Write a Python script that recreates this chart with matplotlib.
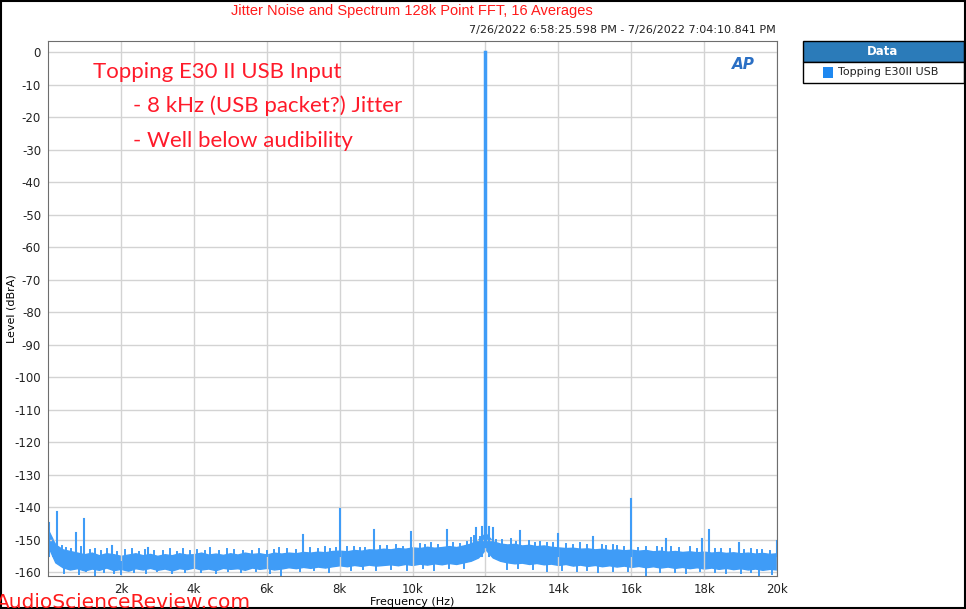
import matplotlib.pyplot as plt
from matplotlib.patches import Rectangle

plt.rcParams["axes.unicode_minus"] = False

# noise band envelope, every 0.2 kHz
freq_k = [i * 0.2 for i in range(101)]
upper = [-147.0, -151.5, -153.0, -153.5, -154.0, -154.5, -154.0, -154.8, -154.2, -154.5,
         -155.0, -154.6, -154.2, -154.8, -154.4, -155.0, -154.5, -154.8, -154.2, -154.6,
         -154.5, -154.0, -154.6, -154.3, -154.7, -154.2, -154.6, -154.0, -154.4, -154.2,
         -154.6, -154.0, -154.3, -154.0, -154.2, -153.8, -154.0, -153.7, -153.9, -153.5,
         -153.4, -153.6, -153.2, -153.4, -153.0, -153.1, -152.8, -153.0, -152.6, -152.8,
         -152.4, -152.6, -152.2, -152.5, -152.3, -152.0, -152.3, -151.8, -151.2, -150.0,
         -148.0, -150.5, -151.2, -151.5, -151.3, -151.8, -151.6, -152.0, -151.8, -152.2,
         -152.4, -152.6, -152.5, -152.8, -152.7, -153.0, -152.8, -153.2, -153.0, -153.3,
         -153.1, -153.4, -153.2, -153.6, -153.4, -153.7, -153.5, -153.8, -153.6, -153.9,
         -153.7, -154.0, -153.8, -154.1, -153.9, -154.2, -154.0, -154.3, -154.1, -154.4,
         -154.2]
lower = [-152.0, -157.0, -158.5, -159.2, -158.8, -159.5, -158.9, -159.3, -158.6, -159.4,
         -159.0, -159.6, -158.8, -159.2, -158.7, -159.3, -158.9, -159.5, -158.8, -159.1,
         -158.6, -159.2, -158.9, -159.4, -158.7, -159.0, -158.8, -159.3, -158.6, -159.0,
         -158.7, -159.2, -158.9, -158.5, -158.8, -158.4, -158.7, -158.3, -158.6, -158.2,
         -157.9, -158.2, -157.8, -158.1, -157.7, -158.0, -157.8, -157.6, -157.9, -157.5,
         -157.8, -157.4, -157.7, -157.3, -157.6, -157.2, -157.5, -157.0, -156.5, -155.5,
         -153.0, -155.5, -156.5, -157.0, -157.3, -157.1, -157.5, -157.2, -157.6, -157.4,
         -157.8, -157.5, -158.0, -157.7, -158.1, -157.8, -158.2, -157.9, -158.3, -158.0,
         -158.4, -158.1, -158.5, -158.2, -158.6, -158.3, -158.7, -158.4, -158.8, -158.5,
         -158.9, -158.6, -159.0, -158.7, -159.1, -158.8, -159.2, -158.9, -159.3, -159.0,
         -159.2]

# discrete tones (kHz, dBrA)
spike_f = [0.02, 0.26, 0.76, 1.0, 1.75, 2.75, 7.0, 8.0, 8.95, 9.96, 10.96, 11.75, 11.9,
           12.1, 12.2, 12.95, 13.98, 14.94, 16.0, 16.96, 17.93, 18.13, 18.95, 20.0]
spike_db = [-145.0, -141.6, -148.1, -143.8, -152.0, -152.5, -148.7, -140.7, -146.9, -147.7,
            -146.9, -146.5, -146.0, -146.2, -146.4, -147.4, -148.3, -149.3, -137.6, -149.9,
            -149.9, -147.2, -151.0, -150.5]
# small bumps on the top of the noise floor
minor_f = [0.15, 0.38, 0.5, 0.62, 0.9, 1.15, 1.3, 1.45, 1.62, 1.9, 2.1, 2.3, 2.5, 2.65, 2.9,
           3.15, 3.35, 3.55, 3.7, 3.9, 4.1, 4.3, 4.45, 4.7, 4.9, 5.1, 5.35, 5.6, 5.8, 6.0,
           6.2, 6.35, 6.55, 6.8, 7.2, 7.4, 7.6, 7.75, 7.9, 8.2, 8.4, 8.55, 8.7, 9.1, 9.3,
           9.55, 9.75, 10.2, 10.35, 10.5, 10.7, 11.1, 11.3, 11.5, 11.6, 11.7, 11.85, 12.3,
           12.45, 12.7, 12.85, 13.2, 13.35, 13.5, 13.7, 13.85, 14.2, 14.4, 14.6, 14.8, 15.2,
           15.3, 15.5, 15.6, 15.8, 16.2, 16.4, 16.7, 16.85, 17.1, 17.3, 17.6, 17.8, 18.3,
           18.45, 18.7, 19.1, 19.3, 19.45, 19.6, 19.8]
minor_db = [-150.5, -152.0, -152.6, -153.0, -152.4, -153.3, -152.8, -153.6, -153.0, -153.8,
            -153.2, -152.8, -153.7, -153.1, -153.5, -153.4, -152.9, -153.8, -153.0, -153.6,
            -153.2, -153.5, -152.7, -153.4, -153.0, -153.1, -153.6, -153.4, -152.8, -153.5,
            -153.2, -152.6, -152.9, -153.3, -152.5, -152.9, -152.4, -153.0, -152.6, -152.3,
            -152.2, -152.7, -152.6, -152.1, -152.0, -151.8, -152.2, -151.4, -151.8, -151.2,
            -151.6, -151.0, -151.4, -150.8, -149.6, -148.8, -149.2, -150.0, -150.2, -149.8,
            -150.6, -150.4, -150.9, -150.7, -151.2, -150.9, -151.5, -151.6, -151.0, -151.8,
            -151.7, -152.0, -151.8, -152.0, -152.3, -152.6, -152.3, -152.3, -152.7, -152.4,
            -152.7, -152.4, -152.9, -153.0, -152.8, -152.9, -153.2, -152.9, -153.1, -153.2,
            -153.4]
# small dips at the bottom of the noise floor
dip_f = [0.45, 0.85, 1.05, 1.3, 1.55, 1.8, 2.0, 2.35, 2.7, 3.0, 3.4, 3.75, 4.2, 4.6, 4.95,
         5.3, 5.7, 6.1, 6.4, 6.9, 7.3, 7.7, 8.3, 8.65, 9.0, 9.4, 9.85, 10.3, 10.6, 11.0,
         11.4, 12.6, 12.9, 13.3, 13.7, 14.1, 14.5, 14.8, 15.1, 15.5, 15.9, 16.4, 16.8, 17.2,
         17.5, 17.9, 18.3, 18.6, 19.0, 19.3, 19.5, 19.85]
dip_db = [-160.2, -160.5, -159.8, -161.0, -160.0, -160.4, -160.5, -159.9, -160.3, -159.8,
          -160.2, -160.0, -159.9, -160.3, -159.8, -160.0, -159.7, -160.2, -161.0, -159.6,
          -159.5, -159.9, -159.4, -159.2, -159.5, -158.9, -159.3, -158.8, -159.5, -158.7,
          -158.6, -159.0, -158.8, -159.2, -159.6, -159.3, -159.8, -159.4, -160.0, -159.6,
          -159.8, -161.0, -159.9, -160.1, -160.3, -159.8, -160.0, -160.4, -160.2, -160.0,
          -161.0, -160.6]

fund_f = 12.0
fund_db = 0.0

blue = "#3f9cf7"
fig = plt.figure(figsize=(9.66, 6.09), dpi=100)
ax = fig.add_axes([48 / 966, 33 / 609, 729 / 966, 535 / 609])

ax.fill_between(freq_k, lower, upper, color=blue, linewidth=1.0, edgecolor=blue)
for f, db in zip(spike_f, spike_db):
    ax.plot([f, f], [-155, db], color=blue, lw=1.5)
for f, db in zip(minor_f, minor_db):
    ax.plot([f, f], [-155, db], color=blue, lw=1.4)
for f, db in zip(dip_f, dip_db):
    ax.plot([f, f], [-157, db], color=blue, lw=1.4)
ax.plot([fund_f, fund_f], [-152, fund_db], color=blue, lw=2.5)

ax.set_xlim(0, 20)
ax.set_ylim(-161.2, 3.4)
ax.set_xticks(range(2, 21, 2))
ax.set_xticklabels([f"{k}k" for k in range(2, 21, 2)])
ax.set_yticks(range(-160, 1, 10))
ax.tick_params(length=0, labelsize=8.5, colors="#222222", pad=5)
ax.grid(color="#d3d3d3", lw=1)
for s in ax.spines.values():
    s.set_color("#6e6e6e")
ax.set_xlabel("Frequency (Hz)", fontsize=8, labelpad=1)
ax.set_ylabel("Level (dBrA)", fontsize=8)
ax.yaxis.set_label_coords(-31 / 729, 0.5)

ax.text(0.97, 0.97, "AP", transform=ax.transAxes, color="#2a6fc4", fontsize=11,
        fontweight="bold", style="italic", ha="right", va="top")

# titles
fig.text(412 / 966, 1 - 11 / 609, "Jitter Noise and Spectrum 128k Point FFT, 16 Averages",
         color="#ff1a1a", fontsize=10.5, family="Liberation Sans", ha="center", va="center")
fig.text(776 / 966, 1 - 30 / 609, "7/26/2022 6:58:25.598 PM - 7/26/2022 7:04:10.841 PM",
         color="#222222", fontsize=8, ha="right", va="center")

# annotations
fig.text(93 / 966, 1 - 72 / 609, "Topping E30 II USB Input", color="#ff1a2a",
         fontsize=16, family="Lato", va="center")
fig.text(133 / 966, 1 - 106 / 609, "- 8 kHz (USB packet?) Jitter", color="#ff1a2a",
         fontsize=16, family="Lato", va="center")
fig.text(133 / 966, 1 - 141 / 609, "- Well below audibility", color="#ff1a2a",
         fontsize=16, family="Lato", va="center")
fig.text(-4 / 966, 1 - 603 / 609, "AudioScienceReview.com", color="#ff1a1a",
         fontsize=14.5, va="center")

# legend panel
fig.patches.append(Rectangle((803 / 966, 1 - 62 / 609), 161 / 966, 21 / 609,
                             transform=fig.transFigure, facecolor="#2b7bb9",
                             edgecolor="black", lw=1))
fig.patches.append(Rectangle((803 / 966, 1 - 83 / 609), 161 / 966, 21 / 609,
                             transform=fig.transFigure, facecolor="white",
                             edgecolor="black", lw=1))
fig.text(883 / 966, 1 - 51.5 / 609, "Data", color="white", fontsize=8.5,
         fontweight="bold", ha="center", va="center")
fig.patches.append(Rectangle((823 / 966, 1 - 77.5 / 609), 10 / 966, 11 / 609,
                             transform=fig.transFigure, facecolor="#1e88f0", edgecolor="none"))
fig.text(838 / 966, 1 - 72 / 609, "Topping E30II USB", color="#222222", fontsize=8,
         va="center")

# outer frame
fig.patches.append(Rectangle((0.001, 0.001), 0.998, 0.997, transform=fig.transFigure,
                             facecolor="none", edgecolor="black", lw=1.5))

fig.savefig("out.png", dpi=100)
